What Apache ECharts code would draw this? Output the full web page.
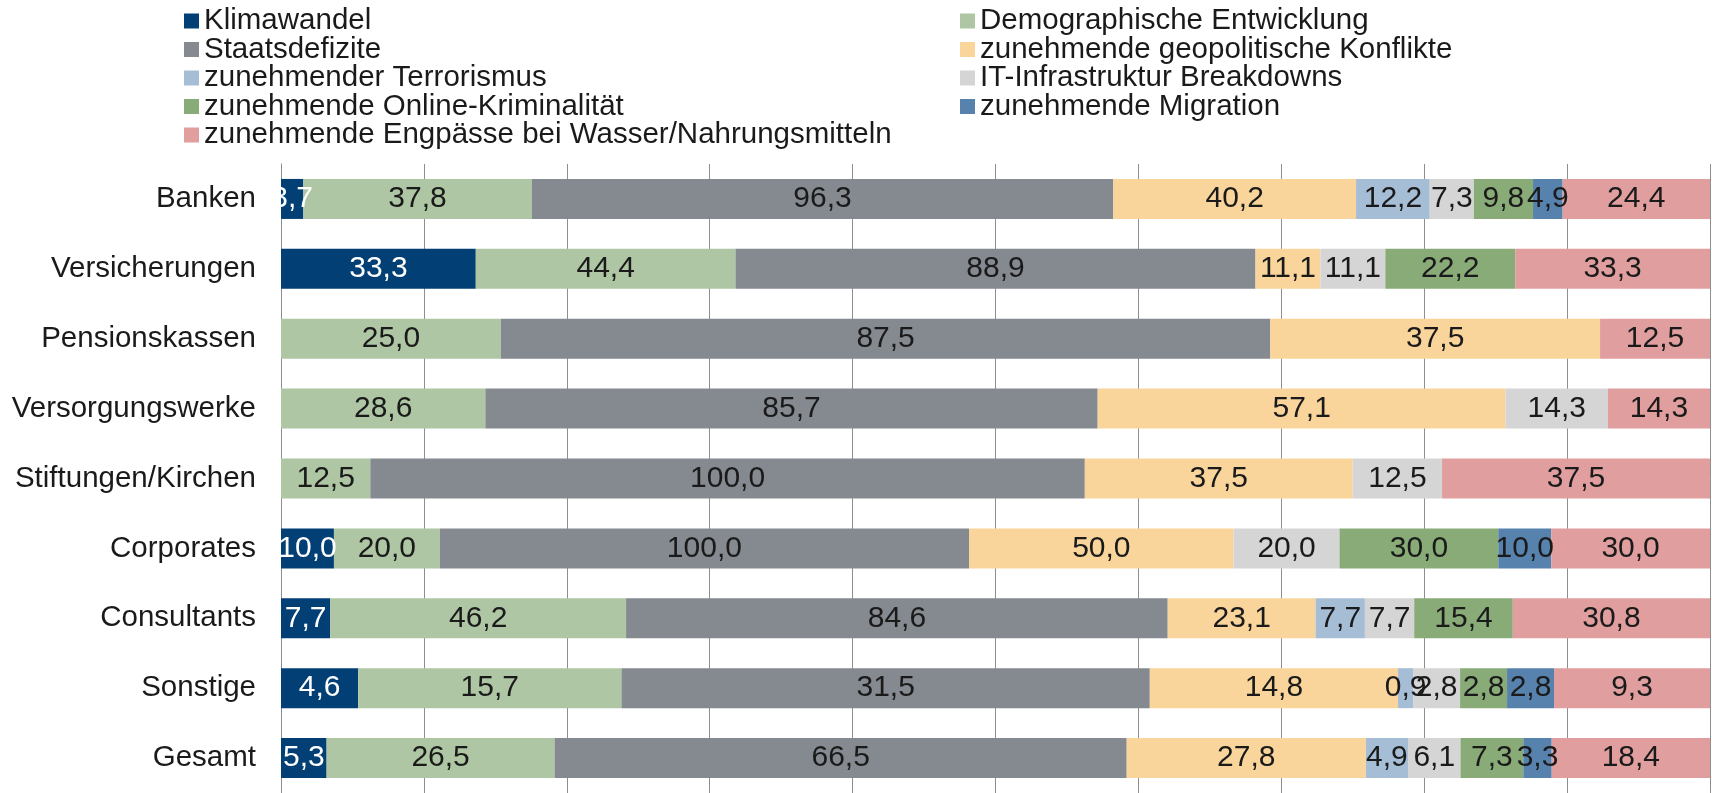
<!DOCTYPE html>
<html>
<head>
<meta charset="utf-8">
<script src="https://cdn.jsdelivr.net/npm/echarts@6/dist/echarts.min.js"></script>
<style>
  html, body { margin: 0; padding: 0; background: #fff; }
  #chart { width: 1712px; height: 793px; }
</style>
</head>
<body>
<div id="chart"></div>
<script>
// categories, top to bottom
var categories = ['Banken', 'Versicherungen', 'Pensionskassen', 'Versorgungswerke',
  'Stiftungen/Kirchen', 'Corporates', 'Consultants', 'Sonstige', 'Gesamt'];

// printed values per risk (null = not mentioned)
var klimawandel  = [3.7, 33.3, null, null, null, 10.0, 7.7, 4.6, 5.3];
var demographie  = [37.8, 44.4, 25.0, 28.6, 12.5, 20.0, 46.2, 15.7, 26.5];
var staatsdef    = [96.3, 88.9, 87.5, 85.7, 100.0, 100.0, 84.6, 31.5, 66.5];
var geopolitik   = [40.2, 11.1, 37.5, 57.1, 37.5, 50.0, 23.1, 14.8, 27.8];
var terrorismus  = [12.2, null, null, null, null, null, 7.7, 0.9, 4.9];
var itBreakdown  = [7.3, 11.1, null, 14.3, 12.5, 20.0, 7.7, 2.8, 6.1];
var onlineKrim   = [9.8, 22.2, null, null, null, 30.0, 15.4, 2.8, 7.3];
var migration    = [4.9, null, null, null, null, 10.0, null, 2.8, 3.3];
var engpaesse    = [24.4, 33.3, 12.5, 14.3, 37.5, 30.0, 30.8, 9.3, 18.4];

var seriesNames = ['Klimawandel', 'Demographische Entwicklung', 'Staatsdefizite',
  'zunehmende geopolitische Konflikte', 'zunehmender Terrorismus', 'IT-Infrastruktur Breakdowns',
  'zunehmende Online-Kriminalität', 'zunehmende Migration',
  'zunehmende Engpässe bei Wasser/Nahrungsmitteln'];
var seriesValues = [klimawandel, demographie, staatsdef, geopolitik, terrorismus,
  itBreakdown, onlineKrim, migration, engpaesse];
var colors = ['#023f74', '#aec6a3', '#858990', '#f9d59c', '#a6bdd6',
  '#d4d5d4', '#89ab78', '#5682ad', '#e09e9e'];

// each bar is shown as 100 %
var totals = categories.map(function (c, i) {
  return seriesValues.reduce(function (s, arr) { return s + (arr[i] || 0); }, 0);
});

var chart = echarts.init(document.getElementById('chart'));

var series = seriesValues.map(function (arr, k) {
  return {
    name: seriesNames[k],
    type: 'bar',
    stack: 'total',
    barWidth: 40,
    itemStyle: { color: colors[k] },
    label: {
      show: true,
      position: 'inside',
      fontSize: 30,
      color: k === 0 ? '#ffffff' : '#1a1a1a',
      formatter: function (p) { return p.data.raw.toFixed(1).replace('.', ','); }
    },
    data: arr.map(function (v, i) {
      return v == null ? { value: null, raw: 0 } : { value: v / totals[i] * 100, raw: v };
    })
  };
});

var legendText = { fontSize: 29.5, color: '#1a1a1a' };

var option = {
  animation: false,
  textStyle: { fontFamily: '"Liberation Sans", Arial, sans-serif' },
  legend: [
    {
      orient: 'vertical', left: 184, top: 6, padding: 0, itemGap: -1.5,
      itemWidth: 15, itemHeight: 15, icon: 'rect',
      textStyle: legendText,
      data: [seriesNames[0], seriesNames[2], seriesNames[4], seriesNames[6], seriesNames[8]]
    },
    {
      orient: 'vertical', left: 960, top: 6, padding: 0, itemGap: -1.5,
      itemWidth: 15, itemHeight: 15, icon: 'rect',
      textStyle: legendText,
      data: [seriesNames[1], seriesNames[3], seriesNames[5], seriesNames[7]]
    }
  ],
  grid: { left: 281, right: 2, top: 164, height: 635, containLabel: false },
  xAxis: {
    type: 'value', min: 0, max: 100, interval: 10,
    axisLabel: { show: false },
    axisLine: { show: false },
    axisTick: { show: false },
    splitLine: { show: true, lineStyle: { color: '#8e8e8e', width: 1 } }
  },
  yAxis: {
    type: 'category', inverse: true, data: categories,
    axisLine: { show: true, lineStyle: { color: '#8e8e8e' } },
    axisTick: { show: false },
    axisLabel: { fontSize: 29.5, color: '#1a1a1a', margin: 25 }
  },
  series: series
};

chart.setOption(option);
</script>
</body>
</html>
